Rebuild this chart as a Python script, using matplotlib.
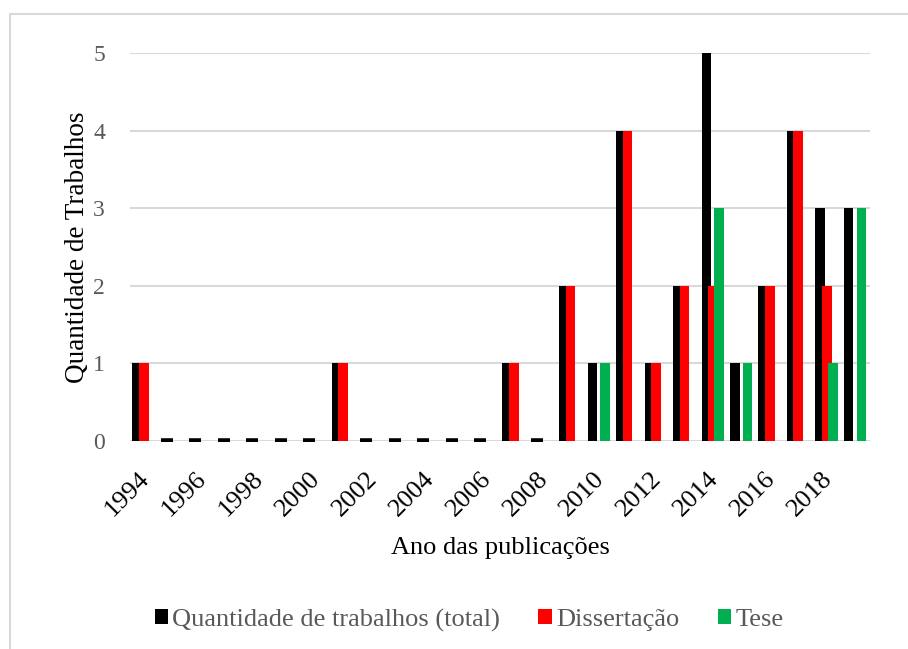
import numpy as np
import matplotlib.pyplot as plt
import matplotlib.transforms as mtransforms
from matplotlib.patches import Rectangle

plt.rcParams['font.family'] = ['Liberation Serif', 'DejaVu Serif']

years = list(range(1994, 2020))
total = [1, 0, 0, 0, 0, 0, 0, 1, 0, 0, 0, 0, 0, 1, 0, 2, 1, 4, 1, 2, 5, 1, 2, 4, 3, 3]
dissertacao = [1, 0, 0, 0, 0, 0, 0, 1, 0, 0, 0, 0, 0, 1, 0, 2, 0, 4, 1, 2, 2, 0, 2, 4, 2, 0]
tese = [0, 0, 0, 0, 0, 0, 0, 0, 0, 0, 0, 0, 0, 0, 0, 0, 1, 0, 0, 0, 3, 1, 0, 0, 1, 3]
tick_years = list(range(1994, 2019, 2))

series = [
    ('Quantidade de trabalhos (total)', total, '#000000', -0.25),
    ('Dissertação', dissertacao, '#ff0000', -0.02),
    ('Tese', tese, '#00b050', 0.20),
]

fig = plt.figure(figsize=(9.08, 6.49), dpi=100)
fig.patches.append(Rectangle((10 / 908, -0.05), 1.0, 1 - 14 / 649 + 0.05,
                             transform=fig.transFigure, fill=False,
                             edgecolor='#d9d9d9', linewidth=1.5))
ax = fig.add_axes([130 / 908, 1 - 441 / 649, 740 / 908, 388 / 649])

x = np.arange(len(years))
width = 0.34
for z, (name, vals, color, off) in enumerate(series):
    vals = np.array(vals)
    ax.bar(x + off, vals, width, color=color, label=name, zorder=3 + z)

# Excel draws a flat cap for the zero-height total columns
zero = np.array(total) == 0
ax.plot(x[zero] - 0.2, np.zeros(zero.sum()), linestyle='none', marker='_',
        markersize=9, markeredgewidth=4, color='black', zorder=3)

ax.set_xlim(-0.5, len(years) - 0.5)
ax.set_ylim(0, 5)
ax.set_yticks(range(6))
ax.yaxis.grid(True, color='#d9d9d9', linewidth=1.5, zorder=0)
for s in ['top', 'right', 'left', 'bottom']:
    ax.spines[s].set_visible(False)
ax.tick_params(axis='y', length=0, pad=18, labelsize=17, labelcolor='#595959')
ax.set_xticks([years.index(t) for t in tick_years])
ax.set_xticklabels([str(t) for t in tick_years], rotation=45, ha='right',
                   rotation_mode='anchor', fontsize=19)
ax.tick_params(axis='x', length=0, pad=19)
shift = mtransforms.ScaledTranslation(-6 / 100, 0, fig.dpi_scale_trans)
for lbl in ax.get_xticklabels():
    lbl.set_transform(lbl.get_transform() + shift)

ax.set_ylabel('Quantidade de Trabalhos', fontsize=19.5, labelpad=2)
ax.set_xlabel('Ano das publicações', fontsize=19, labelpad=12)

handles, labels = ax.get_legend_handles_labels()
fig.legend(handles, labels, loc='center', bbox_to_anchor=(469 / 908, 1 - 620 / 649),
           ncol=3, frameon=False, fontsize=19, handlelength=0.5, handleheight=0.5,
           handletextpad=0.17, columnspacing=1.45, labelcolor='#595959')

fig.savefig('out.png', dpi=100)
